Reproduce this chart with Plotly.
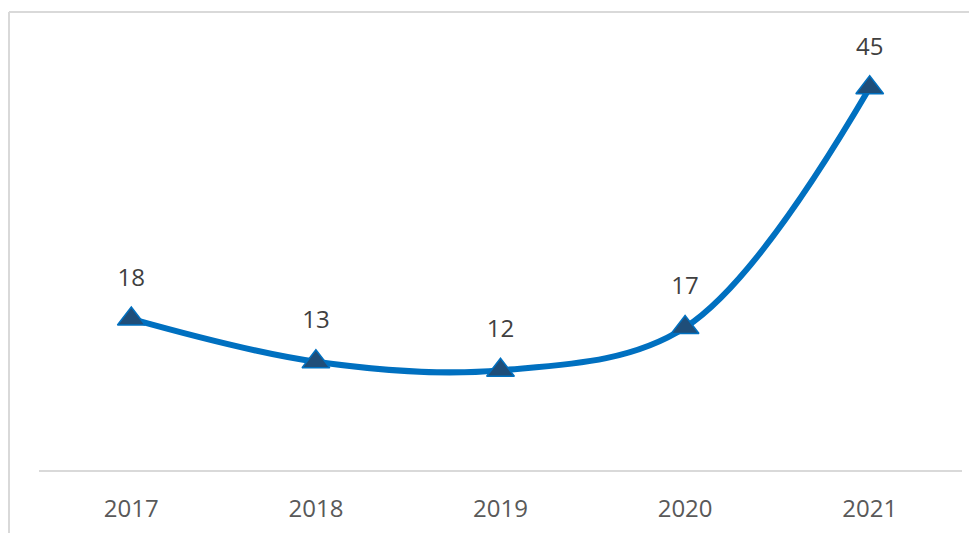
import plotly.graph_objects as go

# Data
years = ['2017', '2018', '2019', '2020', '2021']
values = [18, 13, 12, 17, 45]

fig = go.Figure()

fig.add_trace(go.Scatter(
    x=years, y=values,
    mode='lines+markers',
    line=dict(color='#0070c0', width=6, shape='spline', smoothing=1),
    marker=dict(symbol='triangle-up', size=24, color='#1f4e79',
                line=dict(color='#0070c0', width=1.5)),
    cliponaxis=False,
    hoverinfo='skip',
))

# data labels: invisible big marker pushes the text up above the triangle
fig.add_trace(go.Scatter(
    x=years, y=values,
    mode='markers+text',
    marker=dict(size=42, color='rgba(0,0,0,0)'),
    text=[str(v) for v in values],
    textposition='top center',
    textfont=dict(family='Open Sans', size=24, color='#404040'),
    cliponaxis=False,
    hoverinfo='skip',
))

# outer chart border (top and left edges visible)
fig.add_shape(type='line', xref='paper', yref='paper',
              x0=-0.0325, x1=1.05, y0=1.07, y1=1.07,
              line=dict(color='#d9d9d9', width=2))
fig.add_shape(type='line', xref='paper', yref='paper',
              x0=-0.0325, x1=-0.0325, y0=1.07, y1=-0.2,
              line=dict(color='#d9d9d9', width=2))

fig.update_layout(
    width=977, height=533,
    margin=dict(l=31, r=23, t=34, b=71),
    paper_bgcolor='white', plot_bgcolor='white',
    showlegend=False,
    xaxis=dict(type='category', range=[-0.5, 4.5], showgrid=False, showline=True,
               linecolor='#d9d9d9', linewidth=2, ticks='', ticklabelstandoff=16,
               tickfont=dict(family='Open Sans', size=24, color='#595959'),
               fixedrange=True),
    yaxis=dict(range=[0.35, 50.35], visible=False, showgrid=False, zeroline=False,
               fixedrange=True),
)

fig.write_html('out.html')
